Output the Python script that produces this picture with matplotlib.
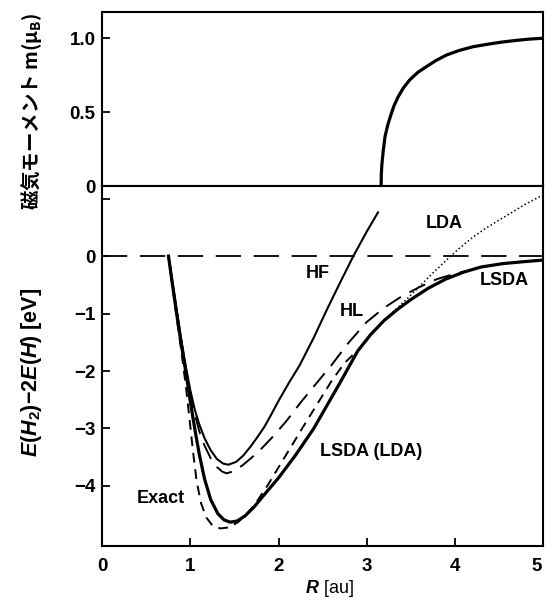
import matplotlib
matplotlib.use("Agg")
import matplotlib.pyplot as plt
from matplotlib.transforms import ScaledTranslation

# magnetic moment (top panel)
r_m = [3.166, 3.168, 3.175, 3.19, 3.21, 3.24, 3.27, 3.31, 3.36, 3.42, 3.49,
       3.58, 3.68, 3.79, 3.91, 4.05, 4.21, 4.36, 4.52, 4.69, 4.86, 5.0]
m_val = [0.0, 0.08, 0.15, 0.24, 0.334, 0.41, 0.469, 0.54, 0.605, 0.665, 0.718,
         0.768, 0.808, 0.85, 0.887, 0.917, 0.943, 0.958, 0.973, 0.985, 0.995, 1.0]

# binding curves E(H2)-2E(H) in eV (bottom panel)
r_hf = [0.75, 0.80, 0.85, 0.90, 0.95, 1.00, 1.05, 1.10, 1.16, 1.23, 1.30, 1.37,
        1.43, 1.52, 1.60, 1.68, 1.76, 1.84, 1.92, 2.00, 2.12, 2.24, 2.40, 2.55,
        2.70, 2.85, 3.00, 3.13]
e_hf = [0.0, -0.50, -1.00, -1.50, -1.95, -2.35, -2.68, -2.93, -3.17, -3.38, -3.53,
        -3.61, -3.63, -3.58, -3.47, -3.32, -3.15, -2.97, -2.75, -2.52, -2.20, -1.90,
        -1.42, -0.93, -0.46, 0.0, 0.42, 0.76]

r_hl = [0.75, 0.80, 0.85, 0.90, 0.95, 1.00, 1.05, 1.10, 1.16, 1.23, 1.30, 1.36,
        1.41, 1.50, 1.60, 1.70, 1.80, 1.95, 2.10, 2.25, 2.40, 2.60, 2.80, 3.00,
        3.20, 3.40, 3.60, 3.80, 4.00, 4.10]
e_hl = [0.0, -0.52, -1.03, -1.52, -1.98, -2.40, -2.76, -3.05, -3.30, -3.52, -3.67,
        -3.75, -3.78, -3.74, -3.63, -3.50, -3.36, -3.12, -2.85, -2.55, -2.27, -1.90,
        -1.50, -1.15, -0.90, -0.70, -0.54, -0.40, -0.31, -0.27]

r_lsda = [0.75, 0.80, 0.85, 0.90, 0.95, 1.00, 1.05, 1.10, 1.16, 1.23, 1.31, 1.38,
          1.45, 1.53, 1.62, 1.72, 1.85, 2.00, 2.20, 2.40, 2.55, 2.70, 2.90, 3.05,
          3.20, 3.35, 3.50, 3.70, 3.90, 4.10, 4.30, 4.55, 4.80, 5.00]
e_lsda = [0.0, -0.55, -1.08, -1.58, -2.05, -2.55, -3.02, -3.45, -3.88, -4.24, -4.48,
          -4.59, -4.63, -4.61, -4.52, -4.37, -4.13, -3.86, -3.45, -3.00, -2.60, -2.20,
          -1.65, -1.36, -1.12, -0.93, -0.76, -0.56, -0.40, -0.28, -0.19, -0.13,
          -0.095, -0.07]

r_exact = [0.75, 0.80, 0.85, 0.90, 0.95, 0.99, 1.03, 1.07, 1.12, 1.18, 1.25, 1.34,
           1.44, 1.54, 1.64, 1.75, 1.88, 2.07, 2.28, 2.45, 2.60, 2.75, 2.90]
e_exact = [0.0, -0.58, -1.15, -1.70, -2.30, -2.85, -3.42, -3.92, -4.30, -4.55, -4.69,
           -4.74, -4.72, -4.63, -4.49, -4.28, -3.98, -3.50, -2.97, -2.55, -2.18,
           -1.86, -1.64]

r_lda = [3.17, 3.30, 3.45, 3.60, 3.75, 3.90, 4.05, 4.20, 4.35, 4.50, 4.65, 4.80, 5.00]
e_lda = [-1.17, -0.97, -0.76, -0.53, -0.30, -0.08, 0.13, 0.32, 0.48, 0.62, 0.76, 0.90, 1.06]

top_ticks = [0, 0.5, 1.0]
top_ticklabels = ["0", "0.5", "1.0"]
bot_ticks = [1, 0, -1, -2, -3, -4]
bot_ticklabels = ["", "0", "\u22121", "\u22122", "\u22123", "\u22124"]
x_ticks = [0, 1, 2, 3, 4, 5]

plt.rcParams["font.family"] = ["Liberation Sans", "Noto Sans CJK JP"]
plt.rcParams["font.weight"] = "bold"
plt.rcParams["mathtext.fontset"] = "custom"
plt.rcParams["mathtext.rm"] = "Liberation Sans:bold"
plt.rcParams["mathtext.it"] = "Liberation Sans:italic:bold"
plt.rcParams["mathtext.bf"] = "Liberation Sans:bold"

TICK_FS = 13.5
TEXT_FS = 13


def style_axis(ax):
    for s in ax.spines.values():
        s.set_linewidth(1.5)
    ax.tick_params(direction="in", length=6, width=1.3, labelsize=TICK_FS, pad=5)
    ax.set_xlim(0, 5)


fig = plt.figure(figsize=(5.46, 6.02), dpi=100)
ax_top = fig.add_axes([0.1877, 0.691, 0.806, 0.2886])
ax_bot = fig.add_axes([0.1877, 0.0935, 0.806, 0.5975])

# top: magnetic moment
ax_top.plot(r_m, m_val, color="black", lw=2.3)
style_axis(ax_top)
ax_top.set_ylim(0, 1.176)
ax_top.set_xticks([])
ax_top.set_yticks(top_ticks)
ax_top.set_yticklabels(top_ticklabels)
ax_top.set_ylabel("磁気モーメント m(μ$_\\mathdefault{B}$)", fontsize=14,
                  family="Noto Sans CJK JP", fontweight="bold")
ax_top.yaxis.set_label_coords(-0.133, 0.43)

# bottom: binding energy curves
ax_bot.axhline(0, color="black", lw=1.3, dashes=(14, 7))
ax_bot.plot(r_hf, e_hf, color="black", lw=1.5)
ax_bot.plot(r_hl, e_hl, color="black", lw=1.4, dashes=(9, 5))
ax_bot.plot(r_exact, e_exact, color="black", lw=1.4, dashes=(5, 3.5))
ax_bot.plot(r_lsda, e_lsda, color="black", lw=2.3)
ax_bot.plot(r_lda, e_lda, color="black", lw=1.1, dashes=(1, 1.6))
style_axis(ax_bot)
ax_bot.set_ylim(-5.04, 1.22)
ax_bot.set_yticks(bot_ticks)
ax_bot.set_yticklabels(bot_ticklabels)
ax_bot.set_xticks(x_ticks)
ax_bot.tick_params(axis="x", pad=9)
# nudge the last x label so it stays inside the figure
last = ax_bot.get_xticklabels()[-1]
last.set_transform(last.get_transform() + ScaledTranslation(-4 / 72, 0, fig.dpi_scale_trans))
ax_bot.set_ylabel("$E(H_2)$\u22122$E(H)$ [eV]", fontsize=15.5, fontweight="bold")
ax_bot.yaxis.set_label_coords(-0.133, 0.483)
ax_bot.set_xlabel("$R$ [au]", fontsize=13)
ax_bot.xaxis.set_label_coords(0.515, -0.089)

ax_bot.text(2.45, -0.30, "HF", fontsize=TEXT_FS, ha="center", va="center")
ax_bot.text(2.83, -0.97, "HL", fontsize=TEXT_FS, ha="center", va="center")
ax_bot.text(3.88, 0.57, "LDA", fontsize=TEXT_FS, ha="center", va="center")
ax_bot.text(4.57, -0.42, "LSDA", fontsize=TEXT_FS, ha="center", va="center")
ax_bot.text(3.05, -3.40, "LSDA (LDA)", fontsize=TEXT_FS, ha="center", va="center")
ax_bot.text(0.66, -4.21, "Exact", fontsize=TEXT_FS, ha="center", va="center")

fig.savefig("out.png", dpi=100)
plt.close(fig)
